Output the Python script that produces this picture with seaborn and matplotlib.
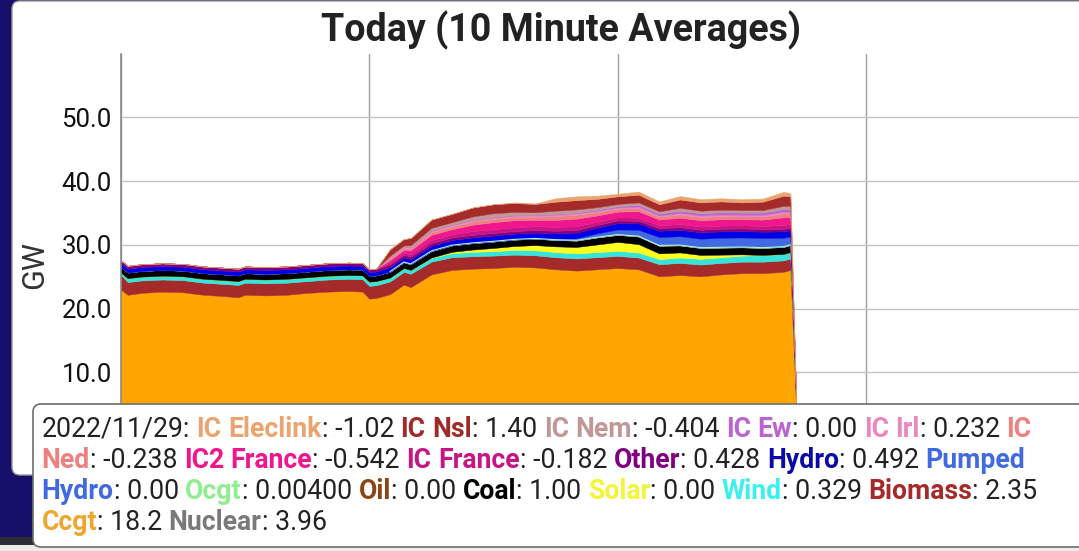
import matplotlib
matplotlib.use("Agg")
import matplotlib.pyplot as plt
import seaborn as sns
import numpy as np
from matplotlib.patches import FancyBboxPatch, Rectangle
from matplotlib.transforms import IdentityTransform

# ---------------- data (minutes since midnight, GW) ----------------
minutes = [0, 10, 30, 60, 90, 120, 150, 170, 180, 210, 240, 270, 300, 330, 350, 360, 370, 390, 410, 420,
           450, 480, 510, 540, 570, 600, 630, 660, 690, 720, 750, 780, 810, 840, 870, 900, 930, 960, 970, 980]

nuclear = [3.96, 3.96, 3.96, 3.96, 3.96, 3.96, 3.96, 3.96, 3.96, 3.96, 3.96, 3.96, 3.96, 3.96, 3.96, 3.96, 3.96, 3.96, 3.96, 3.96,
           3.96, 3.96, 3.96, 3.96, 3.96, 3.96, 3.96, 3.96, 3.96, 3.96, 3.96, 3.96, 3.96, 3.96, 3.96, 3.96, 3.96, 3.96, 3.96, 0]
ccgt = [19.0, 18.2, 18.5, 18.7, 18.6, 18.2, 18.0, 17.8, 18.2, 18.1, 18.2, 18.5, 18.7, 18.8, 18.7, 17.6, 17.7, 18.3, 19.8, 19.4,
        21.4, 22.1, 22.3, 22.4, 22.6, 22.5, 22.2, 22.0, 22.2, 22.4, 22.2, 21.1, 21.3, 21.1, 21.4, 21.6, 21.6, 21.8, 22.1, 0]
biomass = [2.35, 2.0, 1.95, 1.9, 1.9, 1.9, 1.9, 1.95, 1.9, 1.9, 1.9, 1.85, 1.9, 1.9, 1.95, 2.0, 2.0, 2.0, 2.0, 2.1,
           2.0, 2.0, 1.95, 1.95, 1.9, 1.9, 1.9, 1.9, 1.9, 1.9, 1.85, 1.9, 1.9, 1.85, 1.8, 1.8, 1.8, 1.8, 1.8, 0]
wind = [0.33, 0.6, 0.6, 0.6, 0.6, 0.6, 0.6, 0.6, 0.6, 0.6, 0.6, 0.6, 0.6, 0.6, 0.6, 0.65, 0.65, 0.6, 0.6, 0.6,
        0.6, 0.65, 0.7, 0.7, 0.75, 0.8, 0.8, 0.8, 0.8, 0.8, 0.8, 0.8, 0.85, 0.9, 0.9, 0.95, 1.0, 1.0, 1.0, 0]
solar = [0, 0, 0, 0, 0, 0, 0, 0, 0, 0, 0, 0, 0, 0, 0, 0, 0, 0, 0, 0,
         0.05, 0.2, 0.35, 0.5, 0.6, 0.8, 0.9, 1.0, 1.2, 1.4, 1.3, 0.9, 0.8, 0.6, 0.4, 0.2, 0.05, 0, 0, 0]
coal = [0.9, 0.9, 0.9, 0.9, 0.9, 0.9, 0.9, 0.9, 0.9, 0.9, 0.9, 0.9, 0.9, 0.9, 0.9, 0.9, 0.9, 0.9, 0.9, 0.9,
        1.0, 1.0, 1.0, 1.0, 1.0, 1.0, 1.0, 1.0, 1.1, 1.1, 1.2, 1.2, 1.1, 1.1, 1.1, 1.1, 1.1, 1.1, 1.1, 0]
oil = [0, 0, 0, 0, 0, 0, 0, 0, 0, 0, 0, 0, 0, 0, 0, 0, 0, 0, 0, 0,
       0, 0, 0, 0, 0, 0, 0, 0, 0, 0, 0, 0, 0, 0, 0, 0, 0, 0, 0, 0]
ocgt = [0, 0, 0, 0, 0, 0, 0, 0, 0, 0, 0, 0, 0, 0, 0, 0, 0, 0.05, 0.05, 0.05,
        0.05, 0.05, 0.05, 0.05, 0.05, 0.05, 0.05, 0.05, 0.05, 0.05, 0.05, 0.05, 0.05, 0.05, 0.05, 0.05, 0.05, 0.05, 0.05, 0]
pumped = [0, 0, 0, 0, 0, 0, 0, 0, 0, 0, 0, 0, 0, 0, 0, 0, 0, 0, 0, 0,
          0, 0, 0, 0, 0, 0, 0.1, 0.3, 0.6, 0.8, 1.0, 1.3, 1.4, 1.4, 1.5, 1.5, 1.5, 1.4, 1.3, 0]
hydro = [0.6, 0.6, 0.6, 0.6, 0.6, 0.6, 0.6, 0.6, 0.6, 0.6, 0.6, 0.6, 0.6, 0.6, 0.6, 0.6, 0.6, 0.7, 0.7, 0.75,
         0.8, 0.8, 0.85, 0.9, 0.9, 0.9, 0.9, 0.9, 0.9, 1.0, 1.0, 1.0, 1.0, 1.0, 1.0, 1.0, 1.0, 1.0, 1.0, 0]
other = [0.4, 0.4, 0.4, 0.4, 0.4, 0.4, 0.4, 0.4, 0.4, 0.4, 0.4, 0.4, 0.4, 0.4, 0.4, 0.4, 0.4, 0.4, 0.4, 0.4,
         0.4, 0.4, 0.4, 0.4, 0.4, 0.4, 0.4, 0.4, 0.4, 0.4, 0.4, 0.4, 0.4, 0.4, 0.4, 0.4, 0.4, 0.4, 0.4, 0]
ic_france = [0.05, 0.05, 0.05, 0.05, 0.05, 0.05, 0.05, 0.05, 0.05, 0.05, 0.05, 0.05, 0.05, 0.05, 0.05, 0.05, 0.05, 0.3, 0.3, 0.4,
             0.5, 0.5, 0.6, 0.6, 0.6, 0.6, 0.6, 0.6, 0.5, 0.5, 0.5, 0.45, 0.5, 0.5, 0.5, 0.5, 0.5, 0.6, 0.55, 0]
ic2_france = [0, 0, 0, 0, 0, 0, 0, 0, 0, 0, 0, 0, 0, 0, 0, 0, 0, 0.4, 0.5, 0.6,
              0.8, 0.8, 1.0, 1.1, 1.1, 1.0, 1.1, 1.2, 1.0, 0.9, 1.0, 0.9, 1.0, 1.0, 1.0, 0.95, 1.0, 1.2, 1.1, 0]
ic_ned = [0, 0, 0, 0, 0, 0, 0, 0, 0, 0, 0, 0, 0, 0, 0, 0, 0, 0.3, 0.3, 0.3,
          0.4, 0.4, 0.5, 0.5, 0.5, 0.5, 0.6, 0.6, 0.5, 0.45, 0.5, 0.45, 0.5, 0.5, 0.5, 0.45, 0.5, 0.6, 0.55, 0]
ic_irl = [0, 0, 0, 0, 0, 0, 0, 0, 0, 0, 0, 0, 0, 0, 0, 0, 0, 0.2, 0.2, 0.2,
          0.25, 0.25, 0.25, 0.25, 0.25, 0.25, 0.25, 0.25, 0.25, 0.2, 0.25, 0.2, 0.25, 0.25, 0.25, 0.25, 0.25, 0.3, 0.3, 0]
ic_ew = [0, 0, 0, 0, 0, 0, 0, 0, 0, 0, 0, 0, 0, 0, 0, 0, 0, 0, 0, 0,
         0.05, 0.05, 0.05, 0.05, 0.05, 0.05, 0.1, 0.1, 0.15, 0.2, 0.25, 0.3, 0.35, 0.35, 0.35, 0.35, 0.35, 0.4, 0.4, 0]
ic_nem = [0, 0, 0, 0, 0, 0, 0, 0, 0, 0, 0, 0, 0, 0, 0, 0, 0, 0.2, 0.2, 0.3,
          0.4, 0.4, 0.5, 0.6, 0.5, 0.4, 0.5, 0.5, 0.4, 0.35, 0.4, 0.35, 0.45, 0.4, 0.4, 0.4, 0.4, 0.5, 0.5, 0]
ic_nsl = [0, 0, 0, 0, 0, 0, 0, 0, 0, 0, 0, 0, 0, 0, 0, 0, 0, 1.0, 1.0, 1.1,
          1.3, 1.3, 1.4, 1.4, 1.4, 1.3, 1.4, 1.45, 1.3, 1.2, 1.2, 1.1, 1.3, 1.3, 1.3, 1.2, 1.3, 1.6, 1.5, 0]
ic_eleclink = [0, 0, 0, 0, 0, 0, 0, 0, 0, 0, 0, 0, 0, 0, 0, 0, 0, 0, 0, 0,
               0, 0, 0, 0, 0.1, 0.1, 0.55, 0.6, 0.5, 0.4, 0.5, 0.45, 0.55, 0.5, 0.5, 0.5, 0.5, 0.6, 0.5, 0]

# stacking order bottom -> top
stack_names = ["Nuclear", "Ccgt", "Biomass", "Wind", "Solar", "Coal", "Oil", "Ocgt", "Pumped Hydro", "Hydro",
               "Other", "IC France", "IC2 France", "IC Ned", "IC Irl", "IC Ew", "IC Nem", "IC Nsl", "IC Eleclink"]
stack_values = [nuclear, ccgt, biomass, wind, solar, coal, oil, ocgt, pumped, hydro,
                other, ic_france, ic2_france, ic_ned, ic_irl, ic_ew, ic_nem, ic_nsl, ic_eleclink]
colors = {
    "Nuclear": "#808080", "Ccgt": "#FFA500", "Biomass": "#A52A2A", "Wind": "#38E4DA", "Solar": "#FFFF1E",
    "Coal": "#000000", "Oil": "#8B4513", "Ocgt": "#90EE90", "Pumped Hydro": "#4169E1", "Hydro": "#0000E6",
    "Other": "#800080", "IC France": "#C71585", "IC2 France": "#F0168E", "IC Ned": "#EE8080",
    "IC Irl": "#EC86BE", "IC Ew": "#BA65CF", "IC Nem": "#C09898", "IC Nsl": "#A52A2A", "IC Eleclink": "#EBA470",
}

# tooltip legend (order as shown)
legend_date = "2022/11/29:"
legend_names = ["IC Eleclink", "IC Nsl", "IC Nem", "IC Ew", "IC Irl", "IC Ned", "IC2 France", "IC France",
                "Other", "Hydro", "Pumped Hydro", "Ocgt", "Oil", "Coal", "Solar", "Wind", "Biomass", "Ccgt", "Nuclear"]
legend_values = ["-1.02", "1.40", "-0.404", "0.00", "0.232", "-0.238", "-0.542", "-0.182",
                 "0.428", "0.492", "0.00", "0.00400", "0.00", "1.00", "0.00", "0.329", "2.35", "18.2", "3.96"]
legend_text_colors = dict(colors)
legend_text_colors.update({"Hydro": "#0A0AA8", "Wind": "#3CF0F0", "Solar": "#F4F43A",
                           "Ccgt": "#EDA730", "Nuclear": "#7A7A7A", "IC Nsl": "#9E2A2A"})

y_ticks = [10, 20, 30, 40, 50]
y_tick_labels = ["10.0", "20.0", "30.0", "40.0", "50.0"]

# ---------------- figure ----------------
W, H = 1079, 551
sns.set_theme(style="white")
plt.rcParams["font.family"] = ["Roboto", "DejaVu Sans"]

NAVY = "#150F69"
fig = plt.figure(figsize=(W / 100, H / 100), dpi=100)
fig.patch.set_facecolor(NAVY)

def inch(x_px, y_px_top):
    return x_px / 100.0, (H - y_px_top) / 100.0

# bottom strips
fig.add_artist(Rectangle((0, 0), W / 100, (H - 537) / 100, transform=fig.dpi_scale_trans,
                         facecolor="#2c2c34", edgecolor="none", zorder=-3))
fig.add_artist(Rectangle((0, 0), W / 100, (H - 545) / 100, transform=fig.dpi_scale_trans,
                         facecolor="#ececec", edgecolor="none", zorder=-3))
# white card
cx, cy = inch(12, 475)
fig.add_artist(FancyBboxPatch((cx, cy), 12.0, (475 - 1) / 100, boxstyle="round,pad=0,rounding_size=0.08",
                              transform=fig.dpi_scale_trans, facecolor="white", edgecolor="#9a9a9a",
                              linewidth=1.0, zorder=-2))

# axes: x from 0..1440 min maps to px 120.8..1114.8, y 0..60 maps to px 436.1..53.6
x0_px, x1_px = 120.8, 1114.8
ytop_px, y0_px = 53.6, 436.1
ax = fig.add_axes([x0_px / W, 1 - y0_px / H, (x1_px - x0_px) / W, (y0_px - ytop_px) / H])
ax.set_facecolor("none")

ax.stackplot(minutes, *stack_values, colors=[colors[n] for n in stack_names],
             edgecolor="face", linewidth=0.3)

# thin Ocgt boundary line (visible where Ocgt runs)
cum = np.cumsum(np.array(stack_values, dtype=float), axis=0)
ocgt_top = cum[stack_names.index("Ocgt")]
mask = (np.array(ocgt) > 0)
sns.lineplot(x=np.array(minutes, dtype=float)[mask], y=ocgt_top[mask], ax=ax,
             color="#B8F0D8", linewidth=0.8, legend=False)

ax.set_xlim(0, 1440)
ax.set_ylim(0, 60)
ax.set_xticks([0, 360, 720, 1080, 1440])
ax.set_xticklabels([])
ax.set_yticks(y_ticks)
ax.set_yticklabels(y_tick_labels, fontsize=18.5, color="#111111")
ax.tick_params(axis="y", length=0, pad=6.5)
ax.tick_params(axis="x", length=0)
ax.set_xlabel("")
ax.set_ylabel("")
ax.grid(True, axis="y", color="#c4c4c4", linewidth=1.0)
ax.grid(True, axis="x", color="#a0a0a0", linewidth=1.0)
for s in ["top", "right", "bottom"]:
    ax.spines[s].set_visible(False)
ax.spines["left"].set_color("#8a8a8a")
ax.spines["left"].set_linewidth(1.2)

# title and y label
fig.text(561 / W, 1 - 41.7 / H, "Today (10 Minute Averages)", ha="center", va="baseline",
         fontsize=27.1, fontweight="bold", color="#222222")
fig.text(35 / W, 1 - 265 / H, "GW", ha="center", va="center", rotation=90,
         fontsize=22, color="#333333")

# ---------------- tooltip ----------------
tx, ty = inch(33, 547)
fig.add_artist(FancyBboxPatch((tx, ty), 11.0, (547 - 404) / 100, boxstyle="round,pad=0,rounding_size=0.08",
                              transform=fig.dpi_scale_trans, facecolor="white", edgecolor="#6e6e6e",
                              linewidth=1.2, zorder=5))

FS = 19.2
DARK = "#222222"
renderer = fig.canvas.get_renderer()

def text_width(s, bold):
    t = fig.text(0, 0, s, fontsize=FS, fontweight="bold" if bold else "normal", transform=IdentityTransform())
    w = t.get_window_extent(renderer).width
    t.remove()
    return w

space_w = text_width("x x", False) - text_width("xx", False)

# tokens; a token flagged True starts a new tooltip line (line breaks as in the reference)
tokens = [([(legend_date, DARK, False)], False)]
break_before = {("IC Ned", 1), ("Pumped Hydro", 1), ("Ccgt", 0)}
for name, val in zip(legend_names, legend_values):
    words = name.split()
    col = legend_text_colors[name]
    for i, w in enumerate(words):
        parts = [(w, col, True)]
        if i == len(words) - 1:
            parts.append((": " + val, DARK, False))
        tokens.append((parts, (name, i) in break_before))

baselines = [437, 468, 499, 530]
left_px = 41.5
line = 0
x = left_px
for parts, newline in tokens:
    if newline:
        line += 1
        x = left_px
    for s, c, b in parts:
        w = text_width(s, b)
        fig.text(x, H - baselines[line], s, fontsize=FS, fontweight="bold" if b else "normal",
                 color=c, va="baseline", ha="left", transform=IdentityTransform(), zorder=6)
        x += w
    x += space_w

fig.savefig("out.png", dpi=100, facecolor=fig.get_facecolor())
